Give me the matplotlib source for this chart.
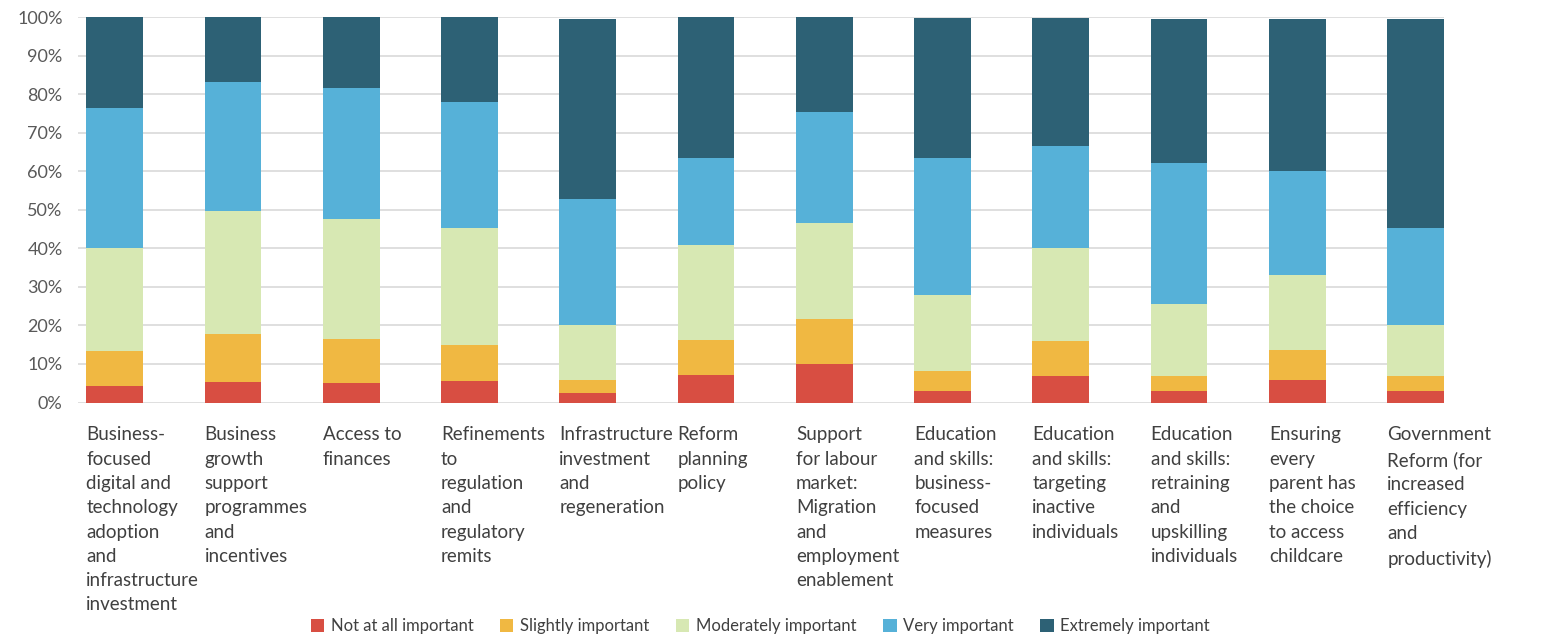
import numpy as np
import matplotlib
matplotlib.use("Agg")
import matplotlib.pyplot as plt
from matplotlib.patches import Patch
from matplotlib.ticker import PercentFormatter

plt.rcParams['font.family'] = ['Lato', 'DejaVu Sans']

categories = [
    "Business-\nfocused\ndigital and\ntechnology\nadoption\nand\ninfrastructure\ninvestment",
    "Business\ngrowth\nsupport\nprogrammes\nand\nincentives",
    "Access to\nfinances",
    "Refinements\nto\nregulation\nand\nregulatory\nremits",
    "Infrastructure\ninvestment\nand\nregeneration",
    "Reform\nplanning\npolicy",
    "Support\nfor labour\nmarket:\nMigration\nand\nemployment\nenablement",
    "Education\nand skills:\nbusiness-\nfocused\nmeasures",
    "Education\nand skills:\ntargeting\ninactive\nindividuals",
    "Education\nand skills:\nretraining\nand\nupskilling\nindividuals",
    "Ensuring\nevery\nparent has\nthe choice\nto access\nchildcare",
    "Government\nReform (for\nincreased\nefficiency\nand\nproductivity)",
]

series_names = ["Not at all important", "Slightly important", "Moderately important",
                "Very important", "Extremely important"]

# shares in %
not_at_all = [4.3, 5.4, 5.1, 5.6, 2.5, 7.2, 10.0, 3.0, 6.9, 3.0, 5.9, 3.0]
slightly   = [9.1, 12.4, 11.4, 9.4, 3.4, 9.0, 11.7, 5.2, 9.1, 3.9, 7.8, 3.9]
moderately = [26.7, 32.0, 31.1, 30.3, 14.2, 24.7, 24.9, 19.7, 24.1, 18.7, 19.4, 13.2]
very       = [36.3, 33.3, 34.0, 32.7, 32.7, 22.5, 28.8, 35.5, 26.5, 36.5, 27.0, 25.2]
extremely  = [23.6, 16.9, 18.4, 22.0, 46.7, 36.6, 24.6, 36.3, 33.1, 37.4, 39.4, 54.2]

colors = ["#D84E42", "#F0B842", "#D7E8B3", "#56B1D8", "#2D6175"]

data = [not_at_all, slightly, moderately, very, extremely]

fig = plt.figure(figsize=(15.55, 6.35), dpi=100)
ax = fig.add_axes([78 / 1555, 232.5 / 635, (1444 - 78) / 1555, (618 - 232.5) / 635])

x = np.arange(len(categories))
width = 0.48
bottom = np.zeros(len(categories))
for vals, col in zip(data, colors):
    vals = np.array(vals) / 100
    ax.bar(x, vals, width, bottom=bottom, color=col, zorder=3)
    bottom += vals

ax.set_xlim(-0.31, len(categories) - 1 + 0.24)
ax.set_ylim(0, 1)
ax.set_yticks(np.arange(0, 1.01, 0.1))
ax.yaxis.set_major_formatter(PercentFormatter(1.0, decimals=0))
ax.yaxis.grid(True, color="#D9D9D9", linewidth=1.2, zorder=0)
ax.tick_params(axis='y', length=0, labelsize=13, labelcolor="#595959", pad=11)
ax.set_xticks([])
for s in ax.spines.values():
    s.set_visible(False)

for i, lab in enumerate(categories):
    ax.text(i - width / 2, -0.062, lab, transform=ax.get_xaxis_transform(),
            ha='left', va='top', fontsize=13.5, color="#404040", linespacing=1.52)

handles = [Patch(facecolor=c, edgecolor='none') for c in colors]
fig.legend(handles, series_names, loc='lower center', bbox_to_anchor=(0.489, -0.022),
           ncol=5, frameon=False, fontsize=12, handlelength=0.8, handleheight=0.8,
           handletextpad=0.4, columnspacing=1.6, labelcolor="#404040")

fig.savefig("out.png", dpi=100)
